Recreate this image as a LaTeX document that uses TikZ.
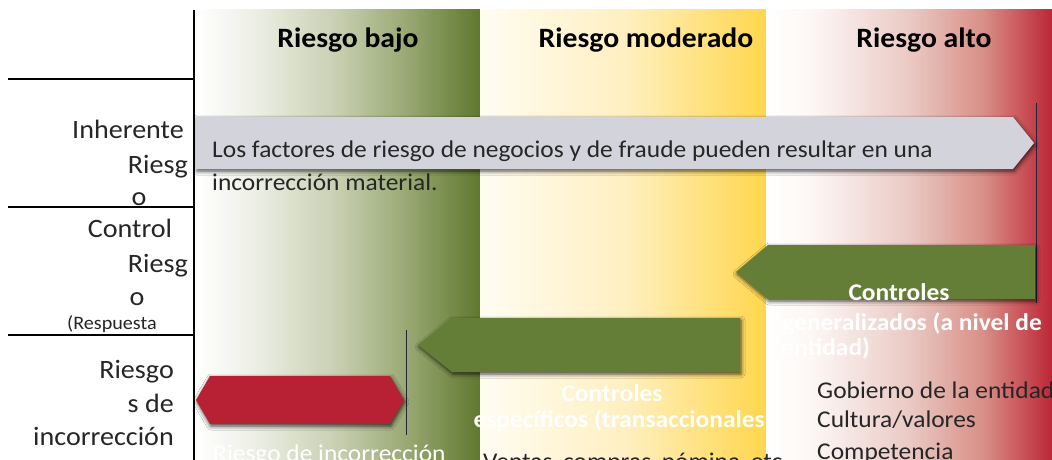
\documentclass[tikz,border=0pt]{standalone}
\usepackage{fontspec}
\setmainfont{Carlito}[FakeStretch=1.06]
\usetikzlibrary{shadows.blur}
\definecolor{txt}{RGB}{38,38,38}
\definecolor{arrgray}{RGB}{211,212,219}
\definecolor{arrgreen}{RGB}{100,126,56}
\definecolor{arrred}{RGB}{184,33,52}
\definecolor{thinline}{RGB}{35,35,60}
\pgfdeclarehorizontalshading{greenband}{100bp}{rgb(0bp)=(1,1,1); rgb(25bp)=(1,1,1); rgb(35bp)=(0.93,0.94,0.90); rgb(50bp)=(0.78,0.81,0.69); rgb(62bp)=(0.60,0.66,0.45); rgb(75bp)=(0.37,0.47,0.18); rgb(100bp)=(0.37,0.47,0.18)}
\pgfdeclarehorizontalshading{yellowband}{100bp}{rgb(0bp)=(1,0.99,0.95); rgb(25bp)=(1,0.99,0.95); rgb(50bp)=(1,0.94,0.76); rgb(75bp)=(1,0.84,0.30); rgb(100bp)=(1,0.84,0.30)}
\pgfdeclarehorizontalshading{redband}{100bp}{rgb(0bp)=(1,1,1); rgb(25bp)=(1,1,1); rgb(33bp)=(0.99,0.97,0.96); rgb(50bp)=(0.92,0.79,0.77); rgb(63bp)=(0.85,0.56,0.53); rgb(75bp)=(0.74,0.15,0.21); rgb(100bp)=(0.74,0.15,0.21)}
\tikzset{
  lab/.style={font=\fontsize{26.5}{30}\selectfont, text=txt, inner sep=0pt},
  smalllab/.style={font=\fontsize{19}{22}\selectfont, text=txt, inner sep=0pt},
  head/.style={font=\bfseries\fontsize{28}{34}\selectfont, text=black, inner sep=0pt},
  body/.style={font=\fontsize{24}{28}\selectfont, text=txt, inner sep=0pt},
  wlab/.style={font=\bfseries\fontsize{24}{28}\selectfont, text=white, inner sep=0pt},
  wreg/.style={font=\fontsize{24}{28}\selectfont, text=white, inner sep=0pt},
  shad/.style={blur shadow={shadow xshift=1pt, shadow yshift=-2pt, shadow blur radius=4pt, shadow opacity=75}},
  rule/.style={line width=1.2pt, draw=black},
  thin/.style={line width=1pt, draw=thinline},
}
\begin{document}
\begin{tikzpicture}[x=1pt,y=-1pt]
\useasboundingbox (0,0) rectangle (1052,460);
\clip (0,0) rectangle (1052,460);
\fill[white] (0,0) rectangle (1052,460);
% bands
\path[shading=greenband] (196,10) rectangle (480.5,460);
\path[shading=yellowband] (480,10) rectangle (766.5,460);
\path[shading=redband] (766,10) rectangle (1052,460);
% left grid
\draw[line width=2pt] (194,10) -- (194,460);
\draw[rule] (8,79) -- (194,79);
\draw[rule] (8,207) -- (194,207);
\draw[rule] (8,335) -- (194,335);
% headings
\node[head, anchor=base] (hbajo) at (348,48) {Riesgo bajo};
\node[head, anchor=base] (hmod) at (646,48) {Riesgo moderado};
\node[head, anchor=base] (halto) at (924,48) {Riesgo alto};
% left labels
\node[lab, anchor=base east] (l1) at (184,138) {Inherente};
\node[lab, anchor=base east] (l2) at (188,173) {Riesg};
\node[lab, anchor=base] (l3) at (139,205) {o};
\node[lab, anchor=base] (l4) at (130,237) {Control};
\node[lab, anchor=base east] (l5) at (188,272) {Riesg};
\node[lab, anchor=base] (l6) at (137,305) {o};
\node[smalllab, anchor=base] (l7) at (112,329) {(Respuesta};
\node[lab, anchor=base east] (l8) at (174,378) {Riesgo};
\node[lab, anchor=base east] (l9) at (174,412) {s de};
\node[lab, anchor=base east] (l10) at (174,445) {incorrección};
% thin lines
\draw[thin] (1036,103) -- (1036,303);
\draw[thin] (406,330) -- (406,435);
% gray arrow
\fill[arrgray, shad] (196,117) -- (1013,117) -- (1034,143) -- (1013,169) -- (196,169) -- cycle;
% green arrow (generalizados)
\fill[arrgreen, shad] (1035,245) -- (768,245) -- (736,272) -- (768,299) -- (1035,299) -- cycle;
% green arrow (especificos)
\fill[arrgreen, shad] (740,318) -- (452,318) -- (418,345) -- (452,372) -- (740,372) -- cycle;
% red hexagon
\fill[arrred, shad] (196,400) -- (210,376) -- (390,376) -- (404,400) -- (390,424) -- (210,424) -- cycle;
% texts
\node[body, anchor=base west] (t1) at (212,157) {Los factores de riesgo de negocios y de fraude pueden resultar en una};
\node[body, anchor=base west] (t2) at (212,190) {incorrección material.};
\node[wlab, anchor=base] (g1) at (899,300) {Controles};
\node[wlab, anchor=base east] (g2) at (1042,330) {generalizados (a nivel de};
\node[wlab, anchor=base west] (g3) at (781,355) {entidad)};
\node[wlab, anchor=base] (e1) at (612,401) {Controles};
\node[wlab, anchor=base east] (e2) at (765,427) {específicos (transaccionales};
\node[wreg, anchor=base west] (r1) at (213,461) {Riesgo de incorrección};
\node[body, anchor=base west] (b1) at (817,398) {Gobierno de la entidad};
\node[body, anchor=base west] (b2) at (817,427) {Cultura/valores};
\node[body, anchor=base west] (b3) at (817,459) {Competencia};
\node[body, anchor=base west] (v1) at (483,469) {\makebox[297pt][s]{Ventas, compras, nómina, etc.}};
\end{tikzpicture}
\end{document}
